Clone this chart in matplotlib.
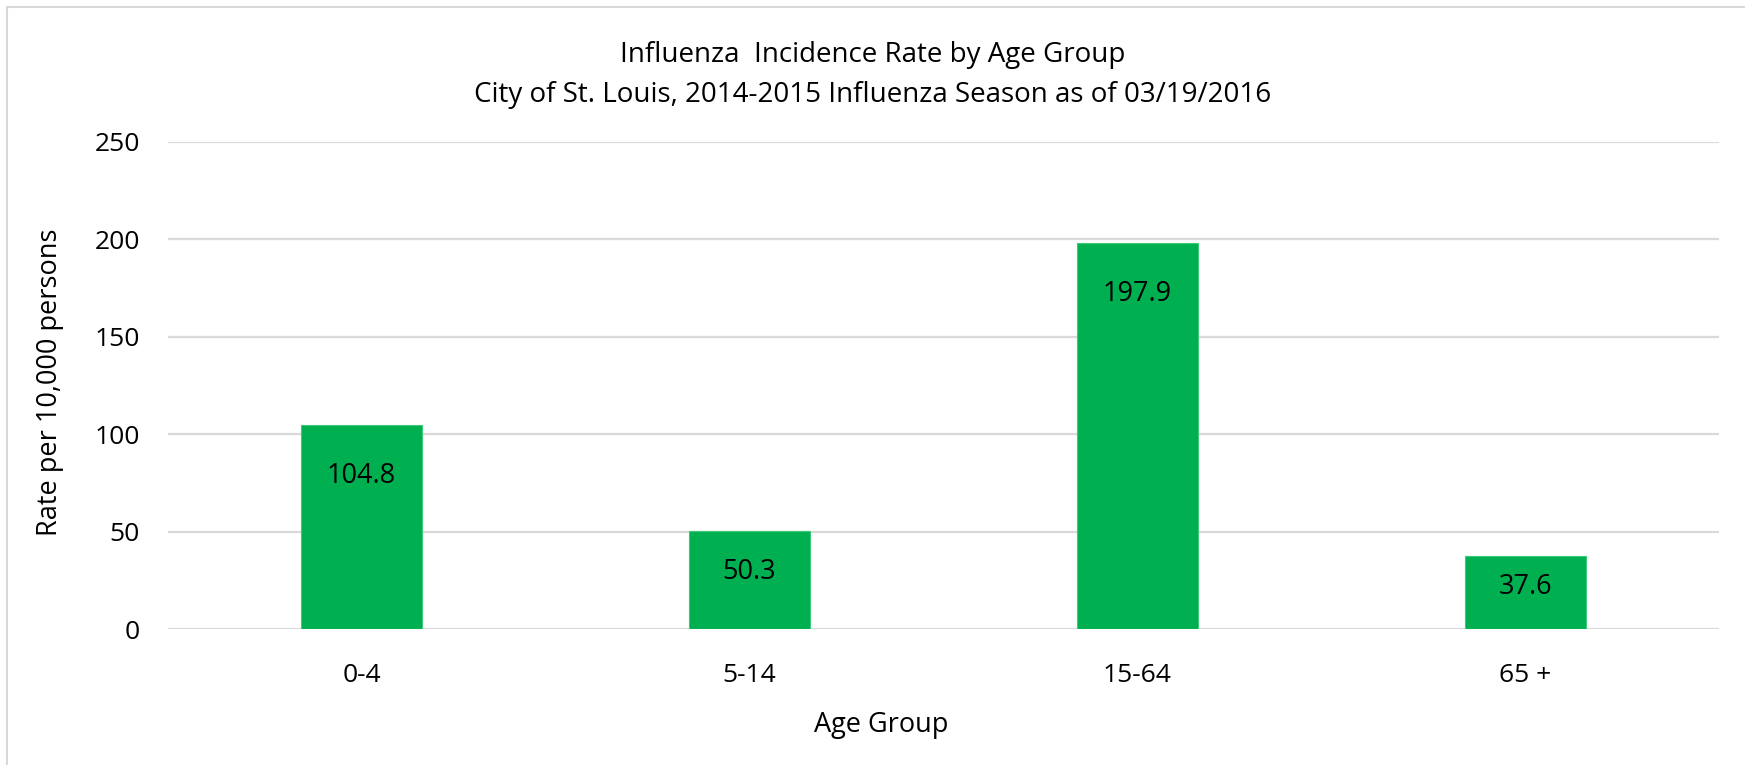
"""
Influenza incidence rate by age group, City of St. Louis.
Bar chart redrawn with matplotlib.
"""

import matplotlib
matplotlib.use("Agg")
import matplotlib.pyplot as plt
from matplotlib.patches import Rectangle

# data
AGE_GROUPS = ["0-4", "5-14", "15-64", "65 +"]
RATES = [104.8, 50.3, 197.9, 37.6]
Y_TICKS = [0, 50, 100, 150, 200, 250]

TITLE = ("Influenza  Incidence Rate by Age Group\n"
         "City of St. Louis, 2014-2015 Influenza Season as of 03/19/2016")
X_LABEL = "Age Group"
Y_LABEL = "Rate per 10,000 persons"

GREEN = "#00B050"
GRID = "#D9D9D9"

plt.rcParams["font.family"] = ["Open Sans", "DejaVu Sans"]


def plot_rates():
    """
    Draw the bar chart and save it as out.png
    """
    fig = plt.figure(figsize=(17.45, 7.65), dpi=100)
    ax = fig.add_axes([0.0961, 0.1774, 0.8890, 0.6372])

    positions = range(len(AGE_GROUPS))
    ax.bar(positions, RATES, width=0.312, color=GREEN,
           edgecolor="#3cc97a", linewidth=0.8, zorder=3)

    # value labels inside the top of each bar
    for pos, rate in zip(positions, RATES):
        label_y = rate - min(26, rate * 0.42)
        ax.text(pos, label_y, "%.1f" % rate, ha="center", va="center",
                fontsize=19.5, color="black", zorder=4)

    ax.set_xlim(-0.5, len(AGE_GROUPS) - 0.5)
    ax.set_ylim(0, 250)
    ax.set_yticks(Y_TICKS)
    ax.set_xticks(list(positions))
    ax.set_xticklabels(AGE_GROUPS)
    ax.tick_params(axis="both", length=0, labelsize=19, colors="black")
    ax.tick_params(axis="x", pad=24)
    ax.tick_params(axis="y", pad=20)
    ax.yaxis.grid(True, color=GRID, linewidth=1.6, zorder=0)
    ax.set_axisbelow(True)
    for spine in ax.spines.values():
        spine.set_visible(False)

    fig.text(0.5, 0.902, TITLE, ha="center", va="center", fontsize=20,
             linespacing=1.55, color="black")
    fig.text(0.505, 0.052, X_LABEL, ha="center", va="center", fontsize=19.5)
    fig.text(0.0287, 0.50, Y_LABEL, ha="center", va="center", fontsize=19.5,
             rotation=90)

    # chart frame, cut off at the right and bottom edges
    fig.patches.append(Rectangle((7 / 1745.0, -0.1), 1.2, 1.1 - 7 / 765.0,
                                 transform=fig.transFigure, fill=False,
                                 edgecolor=GRID, linewidth=1.5))

    fig.savefig("out.png", dpi=100)


if __name__ == "__main__":
    plot_rates()
